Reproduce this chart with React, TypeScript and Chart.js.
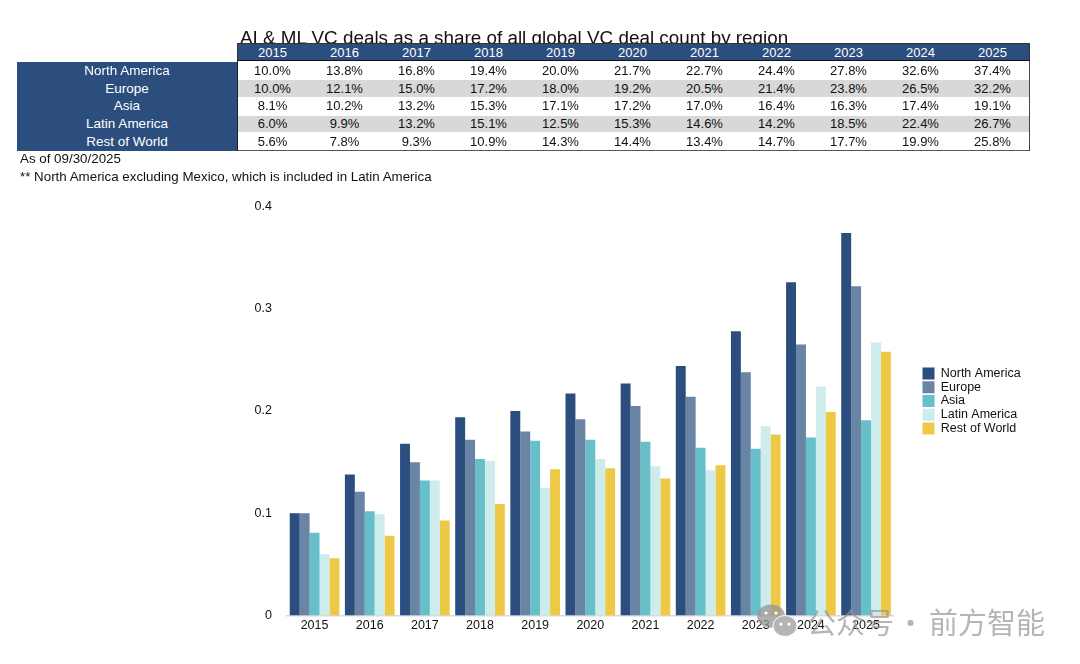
import React, { useEffect, useRef } from "react";
import { Chart, registerables } from "chart.js";

Chart.register(...registerables);

const years = ["2015", "2016", "2017", "2018", "2019", "2020", "2021", "2022", "2023", "2024", "2025"];
const northAmerica = [10.0, 13.8, 16.8, 19.4, 20.0, 21.7, 22.7, 24.4, 27.8, 32.6, 37.4];
const europe = [10.0, 12.1, 15.0, 17.2, 18.0, 19.2, 20.5, 21.4, 23.8, 26.5, 32.2];
const asia = [8.1, 10.2, 13.2, 15.3, 17.1, 17.2, 17.0, 16.4, 16.3, 17.4, 19.1];
const latinAmerica = [6.0, 9.9, 13.2, 15.1, 12.5, 15.3, 14.6, 14.2, 18.5, 22.4, 26.7];
const restOfWorld = [5.6, 7.8, 9.3, 10.9, 14.3, 14.4, 13.4, 14.7, 17.7, 19.9, 25.8];

const seriesNames = ["North America", "Europe", "Asia", "Latin America", "Rest of World"];
const seriesValues = [northAmerica, europe, asia, latinAmerica, restOfWorld];
const seriesColors = ["#2B4E7E", "#6A84A6", "#67C0C9", "#CDECEB", "#EDC945"];

const titleText = "AI & ML VC deals as a share of all global VC deal count by region";
const noteOne = "As of 09/30/2025";
const noteTwo = "** North America excluding Mexico, which is included in Latin America";
const watermarkA = "公众号";
const watermarkDot = "·";
const watermarkB = "前方智能";

const FONT = '"Liberation Sans", Arial, sans-serif';

const legendPlacer = {
  id: "legendPlacer",
  afterLayout(chart: any) {
    const l = chart.legend;
    const w = l.width;
    const h = l.height;
    l.left = 921.25;
    l.right = 921.25 + w;
    l.top = 366;
    l.bottom = 366 + h;
  },
};

export default function App() {
  const ref = useRef<HTMLCanvasElement>(null);

  useEffect(() => {
    document.body.style.margin = "0";
    const chart = new Chart(ref.current!, {
      type: "bar",
      data: {
        labels: years,
        datasets: seriesNames.map((name, i) => ({
          label: name,
          data: seriesValues[i].map((v) => v / 100),
          backgroundColor: seriesColors[i],
          borderWidth: 0,
          barPercentage: 1,
          categoryPercentage: 0.9,
        })),
      },
      options: {
        responsive: false,
        animation: false,
        devicePixelRatio: 1,
        layout: { padding: { left: 240, top: 206.5, right: 77, bottom: 27.5 } },
        plugins: {
          title: { display: false },
          tooltip: { enabled: false },
          legend: {
            position: "right",
            align: "start",
            labels: {
              boxWidth: 12,
              boxHeight: 12,
              padding: 1.25,
              color: "#111",
              font: { family: FONT, size: 12.5 },
            },
          },
        },
        scales: {
          x: {
            grid: { display: false, drawTicks: false },
            border: { color: "#D9D9D9", width: 1.5 },
            ticks: { color: "#111", font: { family: FONT, size: 12.5 }, padding: 3, maxRotation: 0, autoSkip: false },
          },
          y: {
            min: 0,
            max: 0.4,
            grid: { display: false, drawTicks: false },
            border: { display: false },
            ticks: { stepSize: 0.1, color: "#111", font: { family: FONT, size: 12.5 }, padding: 15 },
            afterFit(s: any) {
              s.width = 47;
            },
          },
        },
      },
      plugins: [legendPlacer],
    } as any);
    return () => chart.destroy();
  }, []);

  const abs = (o: React.CSSProperties): React.CSSProperties => ({ position: "absolute", ...o });
  const rowTop = 62;
  const rowH = 17.7;
  const colLeft = 236.5;
  const colW = 72;
  const markColor = "rgba(150,150,150,0.7)";

  return (
    <div style={{ position: "relative", width: 1080, height: 664, background: "#fff", overflow: "hidden", fontFamily: FONT }}>
      <canvas ref={ref} width={1080} height={664} style={abs({ left: 0, top: 0 })} />
      <div style={abs({ left: 240, top: 26, fontSize: 18.85, lineHeight: "24px", color: "#111", whiteSpace: "nowrap" })}>{titleText}</div>
      {/* header */}
      <div style={abs({ left: 237, top: 43, width: 793, height: 18, background: "#2B4E7E", boxSizing: "border-box", borderTop: "1.5px solid #333", borderLeft: "1.5px solid #333", borderRight: "1.5px solid #333", borderBottom: "1.5px solid #111" })} />
      {years.map((y, c) => (
        <div key={y} style={abs({ left: colLeft + c * colW, top: 44, width: colW, height: 17, lineHeight: "17px", textAlign: "center", color: "#fff", fontSize: 13 })}>{y}</div>
      ))}
      {/* left labels */}
      <div style={abs({ left: 17, top: rowTop, width: 220, height: rowH * 5, background: "#2B4E7E" })} />
      {seriesNames.map((name, r) => (
        <React.Fragment key={name}>
          <div style={abs({ left: 17, top: rowTop + r * rowH, width: 220, height: rowH, lineHeight: rowH + "px", textAlign: "center", color: "#fff", fontSize: 13.5 })}>{name}</div>
          {r % 2 === 1 && <div style={abs({ left: 238, top: rowTop + r * rowH + 0.7, width: 791, height: rowH - 1, background: "#D8D8D8" })} />}
          {seriesValues[r].map((v, c) => (
            <div key={c} style={abs({ left: colLeft + c * colW, top: rowTop + r * rowH, width: colW, height: rowH, lineHeight: rowH + "px", textAlign: "center", color: "#111", fontSize: 13 })}>{v.toFixed(1) + "%"}</div>
          ))}
        </React.Fragment>
      ))}
      <div style={abs({ left: 237, top: 61, width: 793, height: 90, boxSizing: "border-box", borderLeft: "1.5px solid #222", borderRight: "1.5px solid #444", borderBottom: "1.5px solid #555" })} />
      <div style={abs({ left: 20, top: 150.5, fontSize: 13.35, lineHeight: "15px", color: "#111", whiteSpace: "nowrap" })}>{noteOne}</div>
      <div style={abs({ left: 20, top: 168.5, fontSize: 13.35, lineHeight: "15px", color: "#111", whiteSpace: "nowrap" })}>{noteTwo}</div>
      {/* watermark */}
      <svg width="56" height="36" style={abs({ left: 756, top: 604 })}>
        <ellipse cx="15" cy="12" rx="14" ry="11.5" fill="rgba(150,150,150,0.75)" />
        <circle cx="10" cy="9" r="1.6" fill="#fff" />
        <circle cx="20" cy="9" r="1.6" fill="#fff" />
        <ellipse cx="29" cy="22" rx="12" ry="10.5" fill="#B4B4B4" stroke="#fff" strokeWidth="1" />
        <circle cx="25" cy="20" r="1.6" fill="#fff" />
        <circle cx="33" cy="20" r="1.6" fill="#fff" />
      </svg>
      <div style={abs({ left: 807, top: 603, fontFamily: '"Noto Sans CJK SC"', fontSize: 29, lineHeight: "36px", color: markColor, whiteSpace: "nowrap" })}>{watermarkA}</div>
      <div style={abs({ left: 896, top: 603, fontFamily: '"Noto Sans CJK SC"', fontSize: 29, lineHeight: "36px", color: markColor, whiteSpace: "nowrap" })}>{watermarkDot}</div>
      <div style={abs({ left: 929, top: 603, fontFamily: '"Noto Sans CJK SC"', fontSize: 29, lineHeight: "36px", color: markColor, whiteSpace: "nowrap" })}>{watermarkB}</div>
    </div>
  );
}
